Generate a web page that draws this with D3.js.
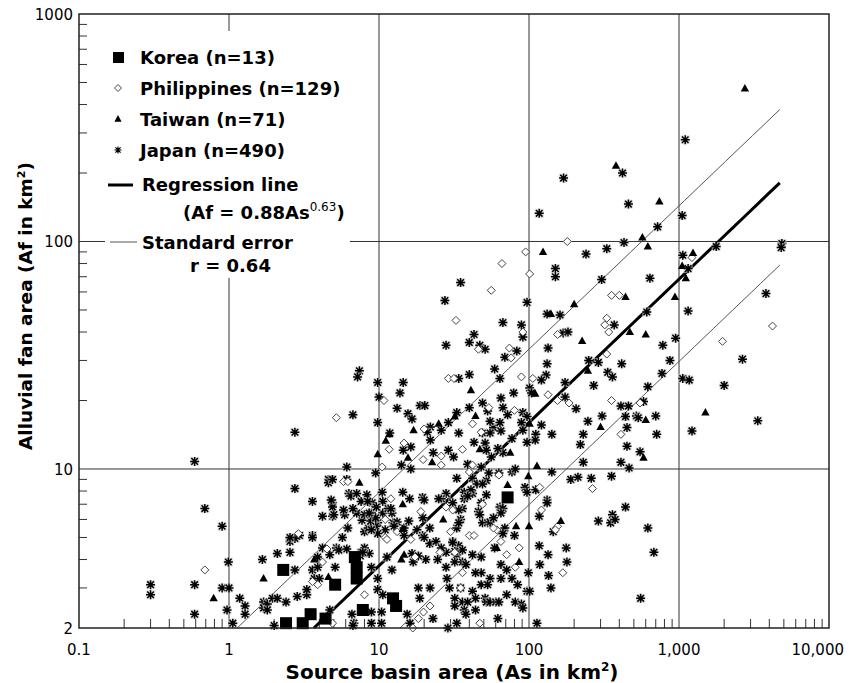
<!DOCTYPE html>
<html>
<head>
<meta charset="utf-8">
<script src="https://cdn.jsdelivr.net/npm/d3@7"></script>
<style>
  body { margin: 0; background: #fff; }
  svg text { font-family: "DejaVu Sans", "Liberation Sans", sans-serif; fill: #000; }
</style>
</head>
<body>
<svg id="chart" width="851" height="683"></svg>
<script>
// [As, Af] pairs (km2)
const korea = [[2.3,3.6],[2.4,2.1],[3.1,2.1],[3.5,2.3],[4.4,2.2],[5.1,3.1],[6.9,4.1],[7.1,3.7],[7.1,3.3],[7.8,2.4],[12.4,2.7],[13,2.5],[72,7.5]];

const philippines = [[180,100],[95,90],[66,80],[101,72],[1220,85],[355,58],[400,58],[29,25],[10.8,20],[5.2,16.8],[14.7,13],[11.7,12.2],[19.7,11],[26,10.4],[26,11.4],[10.5,10.2],[56,61],[32.6,45],[330,46],[320,43],[340,40],[91,40],[46,33.6],[74,34],[76,30.8],[155,39],[330,32],[31.6,25],[89,25.4],[106,25],[134,21.2],[185,19.5],[155,20],[355,20],[550,19.5],[54,18.6],[80,18.1],[42,15.8],[410,14.2],[40,9.7],[265,8.2],[118,8.3],[121,6.6],[155,5.6],[150,5.4],[61,5.4],[49,7],[40,5.1],[43,5.1],[86,4.5],[81,3.7],[71,4.2],[168,3.5],[35,3.0],[47,2.1],[32,4.3],[36,3.5],[0.69,3.6],[2.9,5.2],[3.6,3.2],[4.2,3.9],[3.9,3.1],[5.8,8.8],[12,7.4],[19,6.5],[13.2,5.3],[11,5.0],[25.5,4.3],[17.4,4.1],[8,2.8],[4.9,2.1],[16.8,2.0],[18.3,2.2],[19.8,2.35],[21.9,2.5],[4200,42.5],[1950,36.4],
  [20,15],[36,12.2],[48,14.5],[42,10.4],[63,9.4],[58,5.5],[65,4.8],[30,5.3],[31,6.6],[28,6.8],[11,6.0],[11.3,4.9],[16.3,4.9],[6.2,8.8],[4.5,4.45]];

const taiwan = [[2750,470],[380,215],[740,150],[570,104],[620,95],[124,90],[1240,89],[1050,78],[1110,69],[440,57],[940,57],[200,53],[140,48],[226,36.5],[470,40],[600,39],[247,27],[41,22.2],[110,21.4],[44,17.1],[32,17],[101,15.8],[300,15.3],[600,16.4],[17,14.8],[25,15.8],[11.1,13.3],[22.6,10.7],[15.6,11.2],[9.8,11.6],[113,10.3],[99,9.3],[580,11.2],[72,8.5],[163,5.9],[82,5.6],[100,5.6],[61,4.5],[86,3.9],[1.7,3.3],[0.79,2.7],[4.6,3.35],[3.7,4.0],[7.4,8.7],[14.4,7],[14.7,4.2],[14.1,4.0],[26.8,6.0],[1500,17.7],
  [11.7,14.2],[47,12.2],[75,11.8],[14.4,5.45]];

const japan = [
  [1100,280],[420,200],[170,190],[460,146],[117,133],[1050,130],[720,116],[430,99],[330,93],[240,88],[1060,87],[150,76],[150,70],[305,68],[640,69],[1150,76],[1770,95],[4850,98],[4800,94],[3800,59],
  [27.5,55],[28,35],[7.4,27],[7.2,25.4],[9.8,24],[14.5,24],[13.8,21.6],[10,20.7],[13.2,18.5],[18.8,19],[20.2,19],[15.6,17.5],[16.6,16.6],[6.7,17.3],[2.75,14.5],[9.8,16],[22,15.3],[21,14.5],[26,14.8],[11.8,14.4],[16.3,12.5],[14.5,12.1],[22,13.4],[23,11.8],[29,12.1],[16.3,10],[14.1,10.4],[9.5,9.6],[6.1,10.2],[4.6,9.0],[6.1,9.0],
  [35,66],[97,54],[1150,49.5],[610,49],[132,48],[161,47.5],[67,44],[89,43],[370,43],[91,38],[43,39],[40,36],[47,35],[51,33.6],[69,31],[83,33],[169,39.6],[182,40],[780,35],[950,37.6],[134,34],[132,29],[250,30],[290,29.4],[415,29],[870,30],[59,27.5],[40,26],[34,25],[64,25],[130,25.9],[121,24.6],[335,26.6],[360,25.4],[770,26.3],[1060,25],[1170,24.6],[174,24],[270,23.3],[620,23],[79,21.6],[101,22.7],[104,21.6],[174,20.7],[206,18.4],[410,18.9],[460,18.9],[580,19.8],[49,19.5],[65,20.5],[67,18.6],[72,17.3],[53,18],[91,17.7],[40,18.6],[33,17.7],[58,15.2],[65,14.7],[49,14.4],[51,13],[43,13.1],[34,14.4],[97,17],[89,16],[121,15.6],[142,14.2],[111,14.2],[110,13.4],[97,13.1],[247,16.2],[307,17.1],[440,17],[520,17.1],[535,16.8],[700,17.1],[450,15.2],[230,14.2],[220,12.8],[710,14.2],[1220,14.7],[450,12.6],[550,11.9],
  [33,9.1],[52,8.9],[52,7.7],[63,9.6],[77,9.7],[81,10],[142,9.7],[230,10.7],[410,10.7],[465,10.1],[190,9.0],[212,9.2],[260,9.1],[355,9.3],[94,8.3],[97,7.9],[111,8.1],[37,7.9],[42,7.8],[37,7.4],[46,6.5],[47,6.3],[64,6.8],[67,6.7],[132,7.3],[132,7.1],[117,6.2],[145,5.3],[290,5.9],[350,5.8],[360,6.3],[375,6.0],[440,6.8],[620,5.5],[680,4.3],[555,2.7],[69,5.5],[80,5.1],[67,5.2],[49,5.8],[53,5.8],[33,5.5],[35,6.0],[117,4.6],[134,4.2],[118,3.8],[177,4.5],[179,3.9],[135,3.4],[140,3.0],[99,3.5],[97,2.9],[101,2.9],[59,4.5],[65,3.8],[71,3.6],[55,3.3],[65,3.3],[77,3.3],[84,3.1],[48,3.5],[44,3.5],[48,3.1],[53,3.1],[42,2.9],[44,2.7],[35,3.0],[51,2.7],[52,2.6],[55,2.6],[60,2.6],[63,2.6],[71,2.8],[81,2.6],[89,2.55],[91,2.45],[36,2.6],[39,2.6],[32,2.7],[32,2.5],[37,2.4],[44,2.4],[38,2.3],[62,2.2],[33,2.1],[113,2.1],[31,4.8],[33,4.2],[32,3.9],[42,4.2],[48,4.1],[36,3.9],[38,3.8],
  [0.69,6.7],[0.9,5.6],[0.99,3.9],[0.9,3.0],[1.0,3.0],[0.97,2.4],[1.06,2.1],[1.18,2.7],[1.28,2.5],[1.28,2.3],[1.67,4.0],[2.1,4.25],[2.55,4.3],[2.55,4.8],[2.75,3.6],[2.95,5.1],[3.6,5.1],[1.7,2.6],[1.7,2.45],[1.8,2.55],[1.8,2.4],[1.95,2.7],[2.1,2.7],[2.4,2.6],[2.85,2.75],[3.3,2.8],[3.3,2.95],[2.0,2.05],[3.6,3.6],[3.9,3.7],[3.7,3.3],[4.0,3.3],[3.9,4.1],[4.7,4.2],[5.2,4.5],[5.4,4.4],[5.1,3.7],[6.3,7.8],[6.5,7.6],[4.6,8.7],[3.6,7.2],[4.9,7.1],[4.2,6.2],[4.9,6.2],[5.9,6.3],[7.1,7.8],[8.3,7.7],[9.0,7.1],[8.9,6.4],[10.6,7.2],[10.6,6.4],[12.2,6.4],[12.4,5.8],[16,7.4],[14.4,7.9],[19.5,7.5],[19.6,6.1],[11,5.4],[14.7,5.5],[14.7,5.1],[16.9,3.9],[20.5,4.0],[24.6,4.0],[28,3.7],[11.3,4.1],[12.2,3.6],[8.9,3.7],[9.8,2.95],[10.6,2.8],[9.8,3.3],[6.6,2.3],[6.8,2.1],[8.9,2.35],[10.4,2.35],[4.7,2.4],[8.9,2.1],[10.4,2.1],[6.7,2.05],[16.1,2.1],[15.4,2.3],[22.9,2.2],[28.8,2.0],[18.3,3.0],[18.7,2.7],[21.9,3.0],[28.4,3.3],[29.5,3.0],
  [0.59,10.8],[0.3,3.1],[0.3,2.8],[0.59,3.1],[0.59,2.3],
  [2650,30.4],[2000,23.3],[3350,16.3],
  [29,16],[31.4,11.3],[55,14.4],[64,16],[67,11.8],[56,11.3],[39,10.5],[48,10.2],[54,9.6],[42,9.1],[45,8.6],[41,8.1],[49,8.6],[48,7.1],[55,5.85],[65,6.4],[58,6.1],[34,4.6],[36,4.4],[28,4.3],[34,5.8],[36,6.7],[34,6.6],[31,7.1],[39,7.6],[28,7.8],[26,7.4],[25,7.4],[20,7.3],[15.8,5.9],[11.5,6.7],[12,6.7],[10.5,7.9],[13.2,5.85],[12.6,5.6],[9.8,5.8],[9.5,5.6],[9.8,5.2],[17.9,5.4],[19.5,5.1],[21.8,5.5],[21.8,4.7],[24,4.8],[26,4.5],[20,5.0],[32,4.35],[16.6,4.25],[18.3,4.15],[31,4.75],[8.6,4.25],[8,4.5],[7.6,4.3],[8,5.3],[8.5,5.5],[8.9,5.4],[8.8,5.9],[9.5,6.1],[7.7,5.95],[6.2,5.5],[5.7,5.0],[7.1,6.4],[6.7,6.7],[8,6.3],[8.6,6.4],[9.6,6.8],[4.9,6.8],[5.0,6.3],[4.2,4.5],[3.6,5.0],[2.75,4.95],[4.8,7.3],[7.6,7.2],[8.4,7.2],[4.9,9.0],[2.75,8.2],[5.8,6.6],[2.55,5.0],[6.1,4.45],[55,16.2],[52,12.1],[62,12.3],[91,14.8],[77,13.6],[7.5,4.15],[7.8,4.3]
];

const xTicks = [0.1, 1, 10, 100, 1000, 10000];
const xTickLabels = ["0.1", "1", "10", "100", "1,000", "10,000"];
const yTicks = [2, 10, 100, 1000];
const yTickLabels = ["2", "10", "100", "1000"];
const legendLabels = ["Korea (n=13)", "Philippines (n=129)", "Taiwan (n=71)", "Japan (n=490)"];

// regression Af = 0.88 As^0.63, standard error band drawn as multiplicative factors
const regA = 0.88, regB = 0.63, seUp = 2.1, seDown = 2.3, regMaxAs = 4700;

const svg = d3.select("#chart");
const x = d3.scaleLog().domain([0.1, 10000]).range([79, 829]);
const y = d3.scaleLog().domain([2, 1000]).range([628, 14]);
const [x0, x1] = x.range();
const [y0, y1] = y.range();

// minor ticks
const xMinor = [];
for (let e = -1; e < 4; e++) for (let m = 2; m <= 9; m++) xMinor.push(m * Math.pow(10, e));
const yMinor = [];
for (let e = 0; e < 3; e++) for (let m = 2; m <= 9; m++) {
  const v = m * Math.pow(10, e);
  if (v > 2 && v < 1000) yMinor.push(v);
}

svg.append("g").selectAll("line").data(xMinor).join("line")
  .attr("x1", d => x(d)).attr("x2", d => x(d))
  .attr("y1", y0).attr("y2", y0 - 9)
  .attr("stroke", "#333").attr("stroke-width", 1);

svg.append("g").selectAll("line").data(yMinor).join("line")
  .attr("x1", x0).attr("x2", x0 + 8)
  .attr("y1", d => y(d)).attr("y2", d => y(d))
  .attr("stroke", "#333").attr("stroke-width", 1);

// grid at decades
svg.append("g").selectAll("line").data(xTicks.slice(1, -1)).join("line")
  .attr("x1", d => x(d)).attr("x2", d => x(d))
  .attr("y1", y0).attr("y2", y1)
  .attr("stroke", "#333").attr("stroke-width", 1);

svg.append("g").selectAll("line").data(yTicks.slice(1, -1)).join("line")
  .attr("x1", x0).attr("x2", x1)
  .attr("y1", d => y(d)).attr("y2", d => y(d))
  .attr("stroke", "#333").attr("stroke-width", 1);

// regression + standard error lines
function regLine(k) {
  const start = Math.pow(2 / (regA * k), 1 / regB);
  const pts = d3.range(0, 41).map(i => {
    const as = Math.exp(Math.log(start) + (Math.log(regMaxAs) - Math.log(start)) * i / 40);
    return [as, regA * k * Math.pow(as, regB)];
  });
  return d3.line().x(d => x(d[0])).y(d => y(d[1]))(pts);
}
svg.append("path").attr("d", regLine(seUp)).attr("fill", "none").attr("stroke", "#555").attr("stroke-width", 1);
svg.append("path").attr("d", regLine(1 / seDown)).attr("fill", "none").attr("stroke", "#555").attr("stroke-width", 1);
svg.append("path").attr("d", regLine(1)).attr("fill", "none").attr("stroke", "#000").attr("stroke-width", 3);

// markers
const star = "M-4.5,0H4.5M0,-4.5V4.5M-3.3,-3.3L3.3,3.3M-3.3,3.3L3.3,-3.3";
const jp = svg.append("g").selectAll("g").data(japan).join("g")
  .attr("transform", d => `translate(${x(d[0])},${y(d[1])})`);
jp.append("rect").attr("x", -4.5).attr("y", -4.5).attr("width", 9).attr("height", 9).attr("fill", "#cfcfcf").attr("opacity", 0.65);
jp.append("path").attr("d", star).attr("stroke", "#000").attr("stroke-width", 1.5);

svg.append("g").selectAll("path").data(philippines).join("path")
  .attr("transform", d => `translate(${x(d[0])},${y(d[1])})`)
  .attr("d", "M0,-4L4,0L0,4L-4,0Z")
  .attr("fill", "#fff").attr("stroke", "#444").attr("stroke-width", 1);

svg.append("g").selectAll("path").data(taiwan).join("path")
  .attr("transform", d => `translate(${x(d[0])},${y(d[1])})`)
  .attr("d", "M0,-4.5L4.2,3L-4.2,3Z")
  .attr("fill", "#000");

svg.append("g").selectAll("rect").data(korea).join("rect")
  .attr("x", d => x(d[0]) - 6).attr("y", d => y(d[1]) - 6)
  .attr("width", 12).attr("height", 12).attr("fill", "#000");

// frame
svg.append("rect").attr("x", x0).attr("y", y1).attr("width", x1 - x0).attr("height", y0 - y1)
  .attr("fill", "none").attr("stroke", "#222").attr("stroke-width", 1.5);

// legend
const lg = svg.append("g");
lg.append("rect").attr("x", 105).attr("y", 31).attr("width", 245).attr("height", 247).attr("fill", "#fff");
const rows = [64, 95, 126, 157];
lg.append("rect").attr("x", 113).attr("y", 52).attr("width", 11).attr("height", 11).attr("fill", "#000");
lg.append("path").attr("transform", "translate(118,88)").attr("d", "M0,-3.5L3.5,0L0,3.5L-3.5,0Z").attr("fill", "#fff").attr("stroke", "#444");
lg.append("path").attr("transform", "translate(118,119)").attr("d", "M0,-4L3.6,2.8L-3.6,2.8Z").attr("fill", "#000");
lg.append("path").attr("transform", "translate(118,150)").attr("d", "M-3.5,0H3.5M0,-3.5V3.5M-2.6,-2.6L2.6,2.6M-2.6,2.6L2.6,-2.6").attr("stroke", "#000").attr("stroke-width", 1.2);
legendLabels.forEach((t, i) => {
  lg.append("text").attr("x", 140).attr("y", rows[i]).attr("font-size", 18).attr("font-weight", "bold").text(t);
});
lg.append("line").attr("x1", 108).attr("x2", 133).attr("y1", 185).attr("y2", 185).attr("stroke", "#000").attr("stroke-width", 3);
lg.append("text").attr("x", 142).attr("y", 191).attr("font-size", 18).attr("font-weight", "bold").text("Regression line");
const eq = lg.append("text").attr("x", 183).attr("y", 219).attr("font-size", 18).attr("font-weight", "bold");
eq.append("tspan").text(`(Af = ${regA}As`);
eq.append("tspan").attr("dy", -8).attr("font-size", 12).attr("font-weight", "normal").text(regB);
eq.append("tspan").attr("dy", 8).text(")");
lg.append("line").attr("x1", 110).attr("x2", 137).attr("y1", 242).attr("y2", 242).attr("stroke", "#555").attr("stroke-width", 1);
lg.append("text").attr("x", 142).attr("y", 249).attr("font-size", 18).attr("font-weight", "bold").text("Standard error");
lg.append("text").attr("x", 190).attr("y", 272).attr("font-size", 18).attr("font-weight", "bold").text("r = 0.64");

// tick labels
svg.append("g").selectAll("text").data(xTicks).join("text")
  .attr("x", (d, i) => i === xTicks.length - 1 ? 844 : x(d))
  .attr("y", 655)
  .attr("text-anchor", (d, i) => i === xTicks.length - 1 ? "end" : "middle")
  .attr("font-size", 15)
  .text((d, i) => xTickLabels[i]);

svg.append("g").selectAll("text").data(yTicks).join("text")
  .attr("x", 73).attr("y", d => y(d) + 6)
  .attr("text-anchor", "end")
  .attr("font-size", 15)
  .text((d, i) => yTickLabels[i]);

// axis titles
const xt = svg.append("text").attr("x", 452).attr("y", 679).attr("text-anchor", "middle")
  .attr("font-size", 20).attr("font-weight", "bold");
xt.append("tspan").text("Source basin area (As in km");
xt.append("tspan").attr("dy", -8).attr("font-size", 12).text("2");
xt.append("tspan").attr("dy", 8).text(")");

const yt = svg.append("text").attr("transform", "translate(32,306) rotate(-90)").attr("text-anchor", "middle")
  .attr("font-size", 18.5).attr("font-weight", "bold");
yt.append("tspan").text("Alluvial fan area (Af in km");
yt.append("tspan").attr("dy", -7).attr("font-size", 11).text("2");
yt.append("tspan").attr("dy", 7).text(")");
</script>
</body>
</html>
